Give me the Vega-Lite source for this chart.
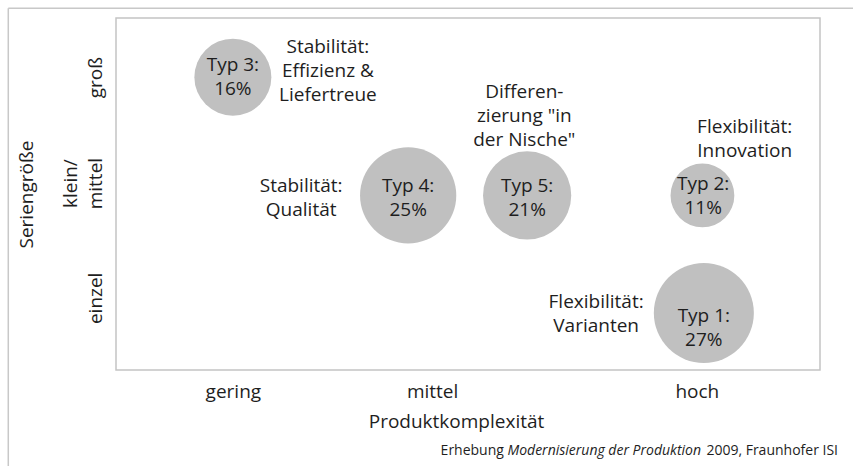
{
  "$schema": "https://vega.github.io/schema/vega-lite/v6.json",
  "width": 704,
  "height": 352,
  "autosize": {"type": "none"},
  "padding": {"left": 116, "top": 18, "right": 33, "bottom": 96},
  "background": "white",
  "config": {
    "view": {"stroke": "#c4c4c4", "strokeWidth": 1.5},
    "font": "Open Sans",
    "axis": {
      "domain": false, "ticks": false, "grid": false,
      "labelFont": "Open Sans", "titleFont": "Open Sans",
      "labelFontSize": 19, "titleFontSize": 19,
      "labelColor": "#1e1e1e", "titleColor": "#1e1e1e",
      "titleFontWeight": "normal", "labelFlush": false, "labelOverlap": false
    }
  },
  "datasets": {
    "frame": [
      {"x": -15.3, "x2": 104.7, "y": 102.8, "y2": 102.8},
      {"x": -15.3, "x2": -15.3, "y": 102.8, "y2": -27.3}
    ],
    "bubbles": [
      {"typ": "Typ 1", "x": 83.5, "y": 16.2, "pct": 27},
      {"typ": "Typ 2", "x": 83.3, "y": 49.6, "pct": 11},
      {"typ": "Typ 3", "x": 16.6, "y": 83.2, "pct": 16},
      {"typ": "Typ 4", "x": 41.5, "y": 49.6, "pct": 25},
      {"typ": "Typ 5", "x": 58.4, "y": 49.6, "pct": 21}
    ],
    "blabels": [
      {"t": "Typ 1:\n27%", "x": 83.5, "y": 15.3},
      {"t": "Typ 2:\n11%", "x": 83.4, "y": 52.8},
      {"t": "Typ 3:\n16%", "x": 16.6, "y": 86.6},
      {"t": "Typ 4:\n25%", "x": 41.5, "y": 52.3},
      {"t": "Typ 5:\n21%", "x": 58.4, "y": 52.3}
    ],
    "notes": [
      {"t": "Stabilität:\nEffizienz &\nLiefertreue", "x": 30.1, "y": 91.8},
      {"t": "Stabilität:\nQualität", "x": 26.3, "y": 52.3},
      {"t": "Differen-\nzierung \"in\nder Nische\"", "x": 58.0, "y": 79.0},
      {"t": "Flexibilität:\nInnovation", "x": 89.3, "y": 69.0},
      {"t": "Flexibilität:\nVarianten", "x": 68.2, "y": 19.3}
    ],
    "footer": [
      {"t": "Erhebung", "x": 55.1, "y": -23.0, "style": "normal"},
      {"t": "Modernisierung der Produktion", "x": 83.1, "y": -23.0, "style": "italic"},
      {"t": "2009, Fraunhofer ISI", "x": 102.56, "y": -23.0, "style": "normal"}
    ]
  },
  "layer": [
    {
      "data": {"name": "bubbles"},
      "mark": {"type": "circle", "color": "#c0c0c0", "opacity": 1},
      "encoding": {
        "x": {
          "field": "x", "type": "quantitative",
          "scale": {"domain": [0, 100], "nice": false, "zero": false},
          "axis": {
            "values": [16.6, 44.9, 82.5],
            "labelExpr": "datum.value < 30 ? 'gering' : datum.value < 60 ? 'mittel' : 'hoch'",
            "labelPadding": 12, "labelBaseline": "top",
            "title": "Produktkomplexität", "titlePadding": 11, "titleX": 340
          }
        },
        "y": {
          "field": "y", "type": "quantitative",
          "scale": {"domain": [0, 100], "nice": false, "zero": false},
          "axis": {
            "values": [20.5, 53.1, 83.2],
            "labelExpr": "datum.value < 35 ? ['', 'einzel'] : datum.value < 70 ? ['klein/', 'mittel'] : ['', 'groß']",
            "labelAngle": -90, "labelAlign": "center", "labelBaseline": "bottom",
            "labelLineHeight": 25, "labelPadding": 36,
            "title": "Seriengröße", "titlePadding": 25
          }
        },
        "size": {"field": "pct", "type": "quantitative", "scale": {"domain": [0, 27], "range": [0, 10000]}, "legend": null}
      }
    },
    {
      "data": {"name": "frame"},
      "mark": {"type": "rule", "color": "#c8c8c8", "strokeWidth": 1.5},
      "encoding": {
        "x": {"field": "x", "type": "quantitative"},
        "x2": {"field": "x2"},
        "y": {"field": "y", "type": "quantitative"},
        "y2": {"field": "y2"}
      }
    },
    {
      "data": {"name": "blabels"},
      "mark": {"type": "text", "fontSize": 19, "lineHeight": 24, "lineBreak": "\n", "align": "center", "baseline": "middle", "color": "#1e1e1e"},
      "encoding": {
        "x": {"field": "x", "type": "quantitative"},
        "y": {"field": "y", "type": "quantitative"},
        "text": {"field": "t", "type": "nominal"}
      }
    },
    {
      "data": {"name": "notes"},
      "mark": {"type": "text", "fontSize": 19, "lineHeight": 24, "lineBreak": "\n", "align": "center", "baseline": "middle", "color": "#1e1e1e"},
      "encoding": {
        "x": {"field": "x", "type": "quantitative"},
        "y": {"field": "y", "type": "quantitative"},
        "text": {"field": "t", "type": "nominal"}
      }
    },
    {
      "data": {"name": "footer"},
      "transform": [{"filter": "datum.style === 'normal'"}],
      "mark": {"type": "text", "fontSize": 14, "align": "right", "baseline": "middle", "color": "#1e1e1e"},
      "encoding": {
        "x": {"field": "x", "type": "quantitative"},
        "y": {"field": "y", "type": "quantitative"},
        "text": {"field": "t", "type": "nominal"}
      }
    },
    {
      "data": {"name": "footer"},
      "transform": [{"filter": "datum.style === 'italic'"}],
      "mark": {"type": "text", "fontSize": 14, "fontStyle": "italic", "align": "right", "baseline": "middle", "color": "#1e1e1e"},
      "encoding": {
        "x": {"field": "x", "type": "quantitative"},
        "y": {"field": "y", "type": "quantitative"},
        "text": {"field": "t", "type": "nominal"}
      }
    }
  ]
}
